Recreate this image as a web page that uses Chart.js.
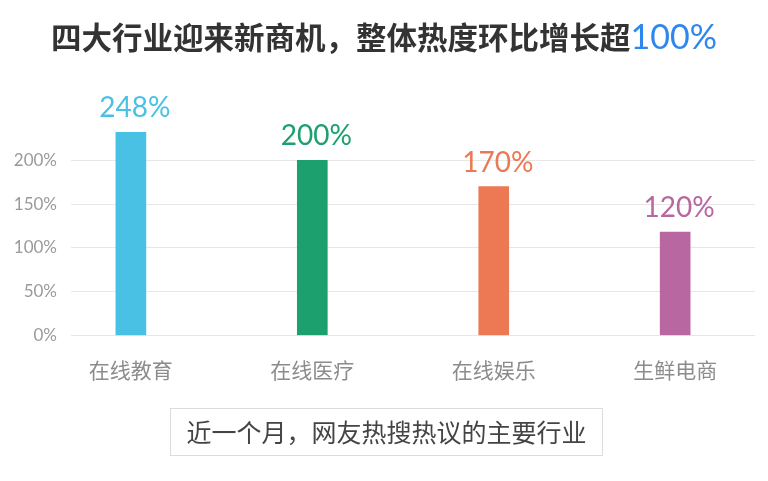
<!DOCTYPE html>
<html>
<head>
<meta charset="utf-8">
<script src="https://cdn.jsdelivr.net/npm/chart.js@4"></script>
<style>
  html, body { margin: 0; padding: 0; background: #fff; }
  #wrap { position: relative; width: 768px; height: 481px; overflow: hidden; }
  #chartBox { position: absolute; left: 0; top: 0; width: 768px; height: 481px; }
  #title { position: absolute; left: 0; width: 768px; top: 16px; text-align: center;
           font-family: "Noto Sans CJK SC", sans-serif; font-weight: 700; font-size: 30.5px;
           line-height: 40px; color: #333; white-space: nowrap; }
  #title .hl { color: #2F87EE; font-family: Lato, "Noto Sans", sans-serif; font-weight: 400; font-size: 34px; }
  #caption { position: absolute; left: 170px; top: 408px; width: 433px; height: 48px;
             border: 1px solid #dcdcdc; box-sizing: border-box; text-align: center;
             font-family: "Noto Sans CJK SC", sans-serif; font-size: 25px; line-height: 45px;
             color: #444; white-space: nowrap; }
</style>
</head>
<body>
<div id="wrap">
  <div id="chartBox"><canvas id="c"></canvas></div>
  <div id="title">四大行业迎来新商机，整体热度环比增长超<span class="hl">100%</span></div>
  <div id="caption">近一个月，网友热搜热议的主要行业</div>
</div>
<script>
const categories = ['在线教育', '在线医疗', '在线娱乐', '生鲜电商'];
const values = [232, 200, 170, 118];
const valueLabels = ['248%', '200%', '170%', '120%'];
const barColors = ['#49C1E4', '#1CA06D', '#EC7954', '#B867A1'];
const yTickValues = [0, 50, 100, 150, 200];

const valueLabelPlugin = {
  id: 'valueLabels',
  afterDatasetsDraw(chart) {
    const ctx = chart.ctx;
    const meta = chart.getDatasetMeta(0);
    ctx.save();
    ctx.font = '400 28px Lato, "Noto Sans", sans-serif';
    ctx.textAlign = 'center';
    ctx.textBaseline = 'middle';
    meta.data.forEach((bar, i) => {
      ctx.fillStyle = barColors[i];
      ctx.fillText(valueLabels[i], bar.x + 4, bar.y - 24);
    });
    ctx.restore();
  }
};

new Chart(document.getElementById('c'), {
  type: 'bar',
  data: {
    datasets: [{
      data: values.map((v, i) => ({ x: i, y: v })),
      backgroundColor: barColors,
      borderWidth: 0,
      barThickness: 30
    }]
  },
  options: {
    responsive: true,
    maintainAspectRatio: false,
    animation: false,
    layout: { padding: { left: 0, right: 13, top: 100, bottom: 0 } },
    plugins: { legend: { display: false }, tooltip: { enabled: false }, title: { display: false } },
    scales: {
      x: {
        type: 'linear',
        offset: false,
        min: -0.33,
        max: 3.44,
        grid: { display: false, drawTicks: false, offset: false },
        border: { display: false },
        afterBuildTicks(axis) { axis.ticks = categories.map((c, i) => ({ value: i })); },
        afterFit(axis) { axis.height = 481 - 335.5; },
        ticks: {
          autoSkip: false,
          maxRotation: 0,
          padding: 22,
          color: '#8c8c8c',
          font: { family: '"Noto Sans CJK SC", sans-serif', size: 21 },
          callback: (v) => categories[v]
        }
      },
      y: {
        min: 0,
        max: 269,
        grid: { color: '#e6e6e6', lineWidth: 1, drawTicks: false },
        border: { display: false },
        afterBuildTicks(axis) { axis.ticks = yTickValues.map(v => ({ value: v })); },
        afterFit(axis) { axis.width = 71; },
        ticks: {
          padding: 14,
          color: '#9a9a9a',
          font: { family: 'Lato, "Noto Sans", sans-serif', size: 17 },
          callback: (v) => v + '%'
        }
      }
    }
  },
  plugins: [valueLabelPlugin]
});
</script>
</body>
</html>
